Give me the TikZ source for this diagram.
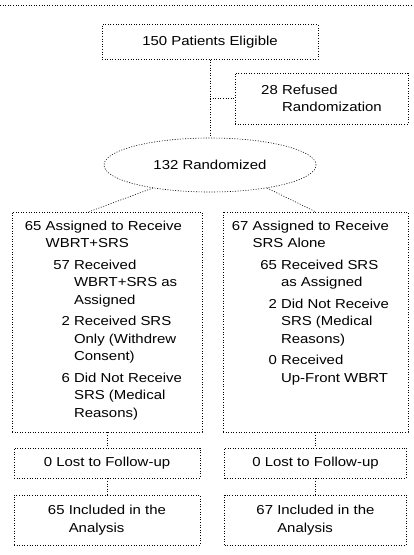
\documentclass[tikz,border=0pt]{standalone}
\usepackage{fontspec}
\setmainfont{Liberation Sans}[FakeStretch=1.15]
\usetikzlibrary{shapes.geometric}

\newcommand{\subnum}[1]{\hspace*{31pt}\makebox[14pt][r]{#1}\ }
\newcommand{\subgap}{\hspace*{31pt}\phantom{\makebox[14pt]{}\ }}

\begin{document}
\begin{tikzpicture}[x=1pt,y=-1pt]
\tikzset{mybox/.style={draw=black,line width=0.6pt,dash pattern=on 1pt off 1.6pt,inner sep=0pt,
    font=\fontsize{13}{17.5}\selectfont,align=left},
  myline/.style={draw=black,line width=0.6pt,dash pattern=on 1pt off 1.6pt},
  mytext/.style={inner sep=0pt,font=\fontsize{13}{17.5}\selectfont,align=left}}
\def\gap{4pt}
\useasboundingbox (0,0) rectangle (413,555);
\draw[myline] (0,5) -- (413,5);

\node[mybox,minimum width=216pt,minimum height=35pt] (elig) at (210,42) {150 Patients Eligible};
\node[mybox,minimum width=173pt,minimum height=51pt] (refused) at (321.5,98.5) {28 Refused\\\phantom{28 }Randomization};
\node[mybox,ellipse,minimum width=212pt,minimum height=54pt] (rand) at (210,165) {132 Randomized};
\coordinate (branch) at (210,98.5);

\node[mybox,minimum width=190pt,minimum height=220pt] (armA) at (107,322) {};
\node[mybox,minimum width=185pt,minimum height=220pt] (armB) at (315.5,322) {};
\node[mytext,anchor=north west] (armAtext) at ([xshift=13pt,yshift=-9pt]armA.north west) {%
65 Assigned to Receive\\
\phantom{65 }WBRT+SRS\\[\gap]
\subnum{57}Received\\
\subgap WBRT+SRS as\\
\subgap Assigned\\[\gap]
\subnum{2}Received SRS\\
\subgap Only (Withdrew\\
\subgap Consent)\\[\gap]
\subnum{6}Did Not Receive\\
\subgap SRS (Medical\\
\subgap Reasons)};
\node[mytext,anchor=north west] (armBtext) at ([xshift=9pt,yshift=-9pt]armB.north west) {%
67 Assigned to Receive\\
\phantom{67 }SRS Alone\\[\gap]
\subnum{65}Received SRS\\
\subgap as Assigned\\[\gap]
\subnum{2}Did Not Receive\\
\subgap SRS (Medical\\
\subgap Reasons)\\[\gap]
\subnum{0}Received\\
\subgap Up-Front WBRT};

\node[mybox,minimum width=186pt,minimum height=30pt] (lostA) at (107,463) {0 Lost to Follow-up};
\node[mybox,minimum width=182pt,minimum height=30pt] (lostB) at (315.5,463) {0 Lost to Follow-up};
\node[mybox,minimum width=186pt,minimum height=50pt] (inclA) at (107,520) {65 Included in the\\\phantom{65 }Analysis};
\node[mybox,minimum width=182pt,minimum height=50pt] (inclB) at (315.5,520) {67 Included in the\\\phantom{67 }Analysis};

\draw[myline] (elig.south) -- (rand.north);
\draw[myline] (branch) -- (refused.west);
\draw[myline] (rand.202) -- ([xshift=-18pt]armA.north);
\draw[myline] (rand.338) -- (armB.north);
\draw[myline] (armA.south) -- (lostA.north);
\draw[myline] (lostA.south) -- (inclA.north);
\draw[myline] (armB.south) -- (lostB.north);
\draw[myline] (lostB.south) -- (inclB.north);
\end{tikzpicture}
\end{document}
